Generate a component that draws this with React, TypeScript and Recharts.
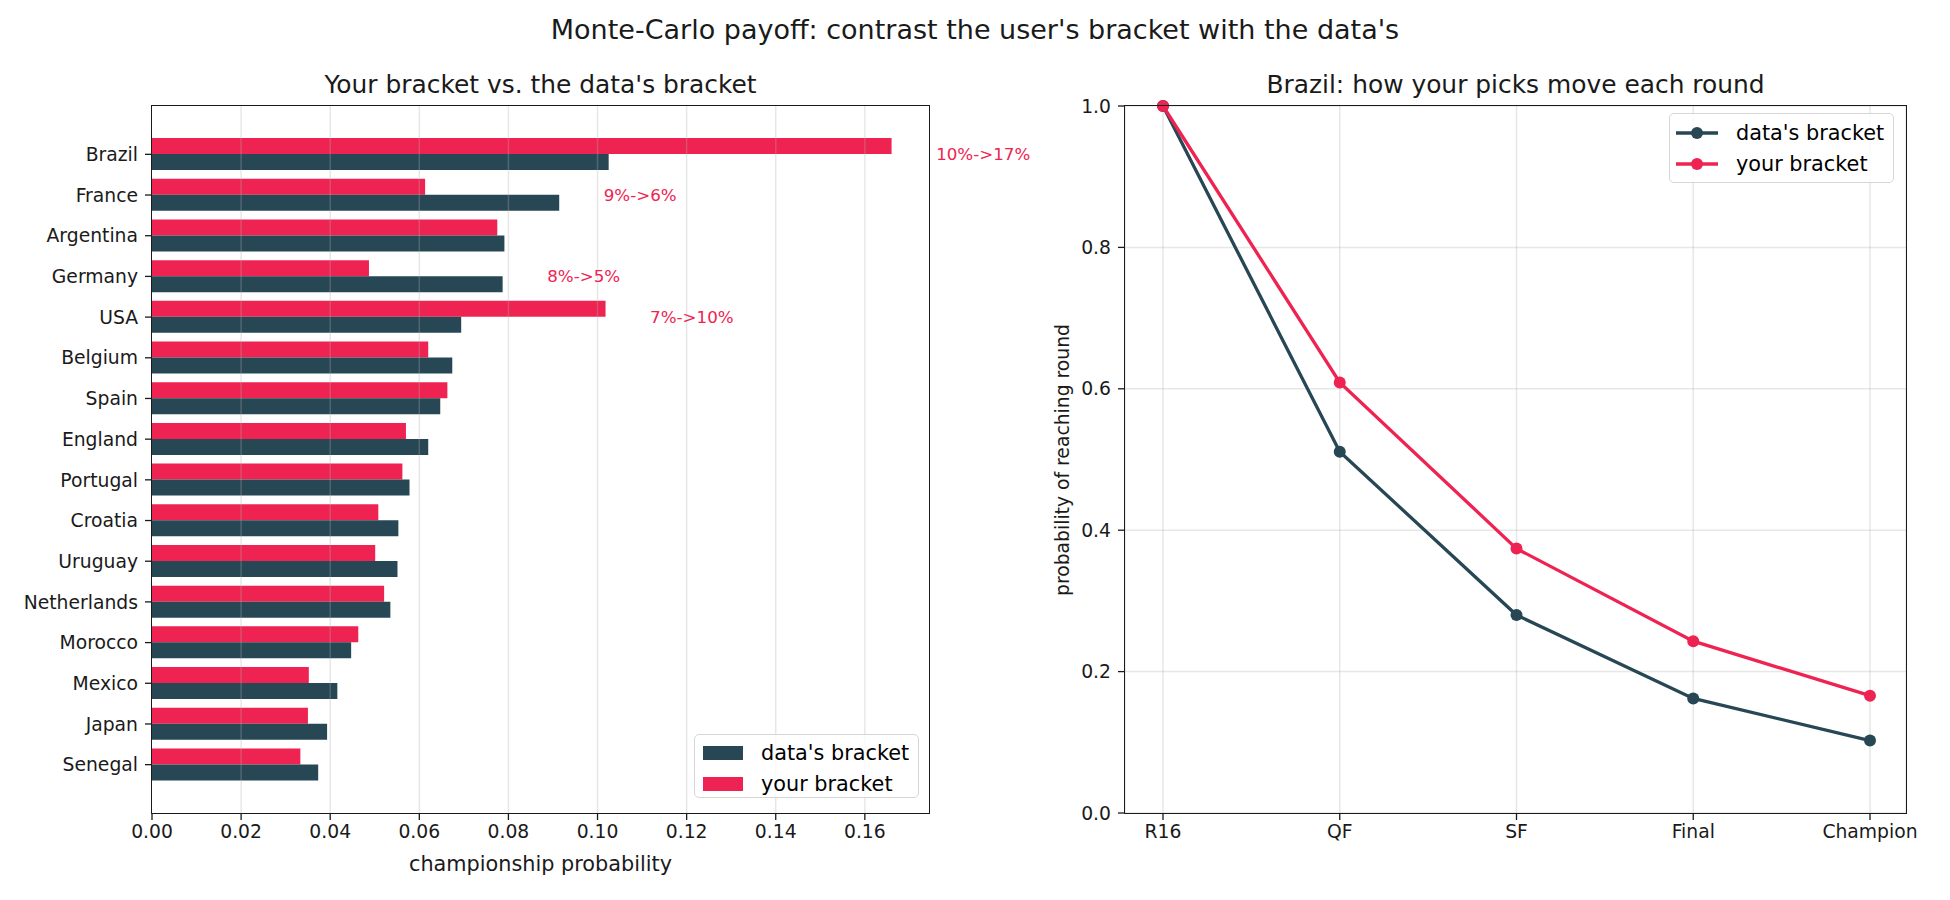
import { BarChart, Bar, LineChart, Line, XAxis, YAxis, CartesianGrid, ReferenceLine, LabelList } from 'recharts';

const RED = '#ef2351';
const DARK = '#274755';
const INK = '#1a1a1a';
const FONT = '"DejaVu Sans", sans-serif';

// championship probability per team
const countries = ['Brazil', 'France', 'Argentina', 'Germany', 'USA', 'Belgium', 'Spain', 'England', 'Portugal', 'Croatia', 'Uruguay', 'Netherlands', 'Morocco', 'Mexico', 'Japan', 'Senegal'];
const dataChamp = [0.1025, 0.0914, 0.0791, 0.0787, 0.0694, 0.0674, 0.0647, 0.062, 0.0578, 0.0553, 0.0551, 0.0535, 0.0447, 0.0416, 0.0393, 0.0373];
const yourChamp = [0.166, 0.0613, 0.0775, 0.0487, 0.1018, 0.062, 0.0663, 0.057, 0.0562, 0.0508, 0.0501, 0.0521, 0.0463, 0.0352, 0.035, 0.0333];
const champTicks = [0, 0.02, 0.04, 0.06, 0.08, 0.1, 0.12, 0.14, 0.16];

// Brazil, probability of reaching each round
const rounds = ['R16', 'QF', 'SF', 'Final', 'Champion'];
const dataRound = [1.0, 0.511, 0.28, 0.162, 0.1025];
const yourRound = [1.0, 0.609, 0.374, 0.243, 0.166];
const roundTicks = [0, 0.2, 0.4, 0.6, 0.8, 1.0];

const SHIFT_MIN = 0.02;

const champRows = countries.map((c, i) => ({ country: c, data: dataChamp[i], your: yourChamp[i] }));
const roundRows = rounds.map((r, i) => ({ round: r, data: dataRound[i], your: yourRound[i] }));

const pct = (v: number) => `${Math.round(v * 100)}%`;

// "a%->b%" note to the right of teams whose odds moved a lot
const ShiftLabel = (props: any) => {
  const { x, y, width, value, index } = props;
  const d = dataChamp[index];
  const u = yourChamp[index];
  if (Math.abs(u - d) < SHIFT_MIN || !value) return null;
  const perUnit = width / value;
  const lx = x + (Math.max(d, u) + 0.01) * perUnit;
  return (
    <text x={lx} y={y} dominantBaseline="central" fill={RED} fontSize={16.7}>
      {`${pct(d)}->${pct(u)}`}
    </text>
  );
};

const tickStyle = { fill: INK, fontSize: 18.75 };
const tickLine = { stroke: INK, strokeWidth: 1.3 };

const abs = (left: number, top: number, extra: any = {}) => ({ position: 'absolute' as const, left, top, ...extra });

const Frame = ({ left, top, width, height }: any) => (
  <div style={abs(left - 0.8, top - 0.8, { width, height, border: `1.6px solid ${INK}`, pointerEvents: 'none' })} />
);

const Centered = ({ x, y, size, children, rotate }: any) => (
  <div style={abs(x, y, {
    fontSize: size, lineHeight: 1, whiteSpace: 'nowrap', color: INK,
    transform: `translate(-50%, -50%)${rotate ? ` rotate(${rotate}deg)` : ''}`,
  })}>{children}</div>
);

export default function App() {
  return (
    <div style={{ position: 'absolute', left: 0, top: 0, width: 1950, height: 900, background: '#fff', fontFamily: FONT, overflow: 'hidden' }}>
      <Centered x={975} y={29} size={27}>Monte-Carlo payoff: contrast the user's bracket with the data's</Centered>
      <Centered x={540.5} y={85} size={24.9}>Your bracket vs. the data's bracket</Centered>
      <Centered x={1515.5} y={85} size={24.9}>Brazil: how your picks move each round</Centered>

      <div style={abs(0, 0)}>
        <BarChart
          width={1040}
          height={900}
          data={champRows}
          layout="vertical"
          margin={{ top: 106, right: 111, bottom: 27, left: 12 }}
          barCategoryGap="10%"
          barGap={0}
        >
          <XAxis
            type="number"
            domain={[0, 0.1744]}
            ticks={champTicks}
            tickFormatter={(v: number) => v.toFixed(2)}
            height={60}
            axisLine={false}
            tickLine={tickLine}
            tickSize={7}
            tickMargin={5}
            tick={tickStyle}
            interval={0}
          />
          <YAxis
            type="category"
            dataKey="country"
            width={140}
            padding={{ top: 28, bottom: 28 }}
            axisLine={false}
            tickLine={tickLine}
            tickSize={7}
            tickMargin={7}
            tick={tickStyle}
            interval={0}
          />
          <Bar dataKey="your" fill={RED} isAnimationActive={false} />
          <Bar dataKey="data" fill={DARK} isAnimationActive={false}>
            <LabelList dataKey="data" content={ShiftLabel} />
          </Bar>
          {champTicks.slice(1).map((t) => (
            <ReferenceLine key={t} x={t} stroke="#b0b0b0" strokeOpacity={0.3} strokeWidth={1.5} />
          ))}
        </BarChart>
      </div>
      <Frame left={152} top={106} width={777} height={707} />
      <Centered x={540.5} y={864} size={20.8}>championship probability</Centered>

      <div style={abs(694, 734, { width: 225, height: 64, boxSizing: 'border-box', border: '1px solid #d6d6d6', borderRadius: 5, background: 'rgba(255,255,255,0.8)', fontSize: 20.8 })}>
        {[['data\'s bracket', DARK], ['your bracket', RED]].map(([name, color], i) => (
          <div key={name} style={abs(8, 8 + i * 31, { display: 'flex', alignItems: 'center', height: 20, lineHeight: 1 })}>
            <span style={{ display: 'inline-block', width: 40, height: 14.5, background: color, marginRight: 18 }} />
            <span>{name}</span>
          </div>
        ))}
      </div>

      <div style={abs(1000, 0)}>
        <LineChart width={950} height={900} data={roundRows} margin={{ top: 106, right: 44, bottom: 27, left: 65 }}>
          <CartesianGrid stroke="#b0b0b0" strokeOpacity={0.3} strokeWidth={1.5} />
          <XAxis
            dataKey="round"
            padding={{ left: 38, right: 36 }}
            height={60}
            axisLine={false}
            tickLine={tickLine}
            tickSize={7}
            tickMargin={5}
            tick={tickStyle}
            interval={0}
          />
          <YAxis
            domain={[0, 1]}
            ticks={roundTicks}
            tickFormatter={(v: number) => v.toFixed(1)}
            width={60}
            axisLine={false}
            tickLine={tickLine}
            tickSize={7}
            tickMargin={7}
            tick={tickStyle}
            interval={0}
          />
          <Line dataKey="data" stroke={DARK} strokeWidth={3.3} dot={{ r: 6, fill: DARK, stroke: DARK, strokeWidth: 0 }} isAnimationActive={false} />
          <Line dataKey="your" stroke={RED} strokeWidth={3.3} dot={{ r: 6, fill: RED, stroke: RED, strokeWidth: 0 }} isAnimationActive={false} />
        </LineChart>
      </div>
      <Frame left={1125} top={106} width={781} height={707} />
      <Centered x={1063} y={459.5} size={18.75} rotate={-90}>probability of reaching round</Centered>

      <div style={abs(1669, 113, { width: 225, height: 70, boxSizing: 'border-box', border: '1px solid #d6d6d6', borderRadius: 5, background: 'rgba(255,255,255,0.8)', fontSize: 20.8 })}>
        {[['data\'s bracket', DARK], ['your bracket', RED]].map(([name, color], i) => (
          <div key={name} style={abs(6, 9 + i * 31, { display: 'flex', alignItems: 'center', height: 20, lineHeight: 1 })}>
            <svg width={42} height={14} style={{ marginRight: 18 }}>
              <line x1={0} y1={7} x2={42} y2={7} stroke={color} strokeWidth={3.3} />
              <circle cx={21} cy={7} r={6} fill={color} />
            </svg>
            <span>{name}</span>
          </div>
        ))}
      </div>
    </div>
  );
}
